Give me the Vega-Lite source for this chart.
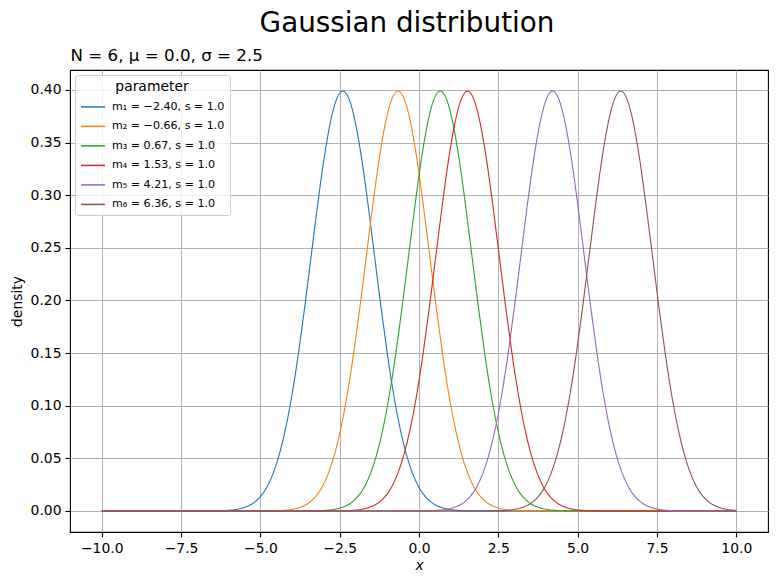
{
  "$schema": "https://vega.github.io/schema/vega-lite/v6.json",
  "width": 698,
  "height": 462,
  "autosize": "none",
  "padding": {"left": 70, "top": 70, "right": 9, "bottom": 53},
  "background": "white",
  "config": {
    "font": "DejaVu Sans",
    "view": {"stroke": "black", "strokeWidth": 1.1},
    "axis": {
      "domain": false,
      "grid": true,
      "gridColor": "#b0b0b0",
      "gridWidth": 1,
      "tickColor": "black",
      "tickSize": 5,
      "tickWidth": 1.1,
      "labelColor": "black",
      "labelFontSize": 13.9,
      "labelPadding": 4,
      "titleColor": "black",
      "titleFontSize": 13.9,
      "titleFontWeight": "normal"
    }
  },
  "title": {
    "text": "Gaussian distribution",
    "fontSize": 27.8,
    "fontWeight": "normal",
    "color": "black",
    "anchor": "middle",
    "dx": -12,
    "offset": 9
  },
  "data": {
    "values": [
      {"k": "m1", "x": -10, "y": 0},
      {"k": "m1", "x": -6.4, "y": 0.00013},
      {"k": "m1", "x": -6.2, "y": 0.00029},
      {"k": "m1", "x": -6.0, "y": 0.00061},
      {"k": "m1", "x": -5.8, "y": 0.00123},
      {"k": "m1", "x": -5.6, "y": 0.00238},
      {"k": "m1", "x": -5.4, "y": 0.00443},
      {"k": "m1", "x": -5.2, "y": 0.00792},
      {"k": "m1", "x": -5.0, "y": 0.01358},
      {"k": "m1", "x": -4.8, "y": 0.02239},
      {"k": "m1", "x": -4.6, "y": 0.03547},
      {"k": "m1", "x": -4.4, "y": 0.05399},
      {"k": "m1", "x": -4.2, "y": 0.07895},
      {"k": "m1", "x": -4.0, "y": 0.11092},
      {"k": "m1", "x": -3.8, "y": 0.14973},
      {"k": "m1", "x": -3.6, "y": 0.19419},
      {"k": "m1", "x": -3.4, "y": 0.24197},
      {"k": "m1", "x": -3.2, "y": 0.28969},
      {"k": "m1", "x": -3.0, "y": 0.33322},
      {"k": "m1", "x": -2.8, "y": 0.36827},
      {"k": "m1", "x": -2.6, "y": 0.39104},
      {"k": "m1", "x": -2.4, "y": 0.39894},
      {"k": "m1", "x": -2.2, "y": 0.39104},
      {"k": "m1", "x": -2.0, "y": 0.36827},
      {"k": "m1", "x": -1.8, "y": 0.33322},
      {"k": "m1", "x": -1.6, "y": 0.28969},
      {"k": "m1", "x": -1.4, "y": 0.24197},
      {"k": "m1", "x": -1.2, "y": 0.19419},
      {"k": "m1", "x": -1.0, "y": 0.14973},
      {"k": "m1", "x": -0.8, "y": 0.11092},
      {"k": "m1", "x": -0.6, "y": 0.07895},
      {"k": "m1", "x": -0.4, "y": 0.05399},
      {"k": "m1", "x": -0.2, "y": 0.03547},
      {"k": "m1", "x": 0.0, "y": 0.02239},
      {"k": "m1", "x": 0.2, "y": 0.01358},
      {"k": "m1", "x": 0.4, "y": 0.00792},
      {"k": "m1", "x": 0.6, "y": 0.00443},
      {"k": "m1", "x": 0.8, "y": 0.00238},
      {"k": "m1", "x": 1.0, "y": 0.00123},
      {"k": "m1", "x": 1.2, "y": 0.00061},
      {"k": "m1", "x": 1.4, "y": 0.00029},
      {"k": "m1", "x": 1.6, "y": 0.00013},
      {"k": "m1", "x": 10, "y": 0},

      {"k": "m2", "x": -10, "y": 0},
      {"k": "m2", "x": -4.66, "y": 0.00013},
      {"k": "m2", "x": -4.46, "y": 0.00029},
      {"k": "m2", "x": -4.26, "y": 0.00061},
      {"k": "m2", "x": -4.06, "y": 0.00123},
      {"k": "m2", "x": -3.86, "y": 0.00238},
      {"k": "m2", "x": -3.66, "y": 0.00443},
      {"k": "m2", "x": -3.46, "y": 0.00792},
      {"k": "m2", "x": -3.26, "y": 0.01358},
      {"k": "m2", "x": -3.06, "y": 0.02239},
      {"k": "m2", "x": -2.86, "y": 0.03547},
      {"k": "m2", "x": -2.66, "y": 0.05399},
      {"k": "m2", "x": -2.46, "y": 0.07895},
      {"k": "m2", "x": -2.26, "y": 0.11092},
      {"k": "m2", "x": -2.06, "y": 0.14973},
      {"k": "m2", "x": -1.86, "y": 0.19419},
      {"k": "m2", "x": -1.66, "y": 0.24197},
      {"k": "m2", "x": -1.46, "y": 0.28969},
      {"k": "m2", "x": -1.26, "y": 0.33322},
      {"k": "m2", "x": -1.06, "y": 0.36827},
      {"k": "m2", "x": -0.86, "y": 0.39104},
      {"k": "m2", "x": -0.66, "y": 0.39894},
      {"k": "m2", "x": -0.46, "y": 0.39104},
      {"k": "m2", "x": -0.26, "y": 0.36827},
      {"k": "m2", "x": -0.06, "y": 0.33322},
      {"k": "m2", "x": 0.14, "y": 0.28969},
      {"k": "m2", "x": 0.34, "y": 0.24197},
      {"k": "m2", "x": 0.54, "y": 0.19419},
      {"k": "m2", "x": 0.74, "y": 0.14973},
      {"k": "m2", "x": 0.94, "y": 0.11092},
      {"k": "m2", "x": 1.14, "y": 0.07895},
      {"k": "m2", "x": 1.34, "y": 0.05399},
      {"k": "m2", "x": 1.54, "y": 0.03547},
      {"k": "m2", "x": 1.74, "y": 0.02239},
      {"k": "m2", "x": 1.94, "y": 0.01358},
      {"k": "m2", "x": 2.14, "y": 0.00792},
      {"k": "m2", "x": 2.34, "y": 0.00443},
      {"k": "m2", "x": 2.54, "y": 0.00238},
      {"k": "m2", "x": 2.74, "y": 0.00123},
      {"k": "m2", "x": 2.94, "y": 0.00061},
      {"k": "m2", "x": 3.14, "y": 0.00029},
      {"k": "m2", "x": 3.34, "y": 0.00013},
      {"k": "m2", "x": 10, "y": 0},

      {"k": "m3", "x": -10, "y": 0},
      {"k": "m3", "x": -3.33, "y": 0.00013},
      {"k": "m3", "x": -3.13, "y": 0.00029},
      {"k": "m3", "x": -2.93, "y": 0.00061},
      {"k": "m3", "x": -2.73, "y": 0.00123},
      {"k": "m3", "x": -2.53, "y": 0.00238},
      {"k": "m3", "x": -2.33, "y": 0.00443},
      {"k": "m3", "x": -2.13, "y": 0.00792},
      {"k": "m3", "x": -1.93, "y": 0.01358},
      {"k": "m3", "x": -1.73, "y": 0.02239},
      {"k": "m3", "x": -1.53, "y": 0.03547},
      {"k": "m3", "x": -1.33, "y": 0.05399},
      {"k": "m3", "x": -1.13, "y": 0.07895},
      {"k": "m3", "x": -0.93, "y": 0.11092},
      {"k": "m3", "x": -0.73, "y": 0.14973},
      {"k": "m3", "x": -0.53, "y": 0.19419},
      {"k": "m3", "x": -0.33, "y": 0.24197},
      {"k": "m3", "x": -0.13, "y": 0.28969},
      {"k": "m3", "x": 0.07, "y": 0.33322},
      {"k": "m3", "x": 0.27, "y": 0.36827},
      {"k": "m3", "x": 0.47, "y": 0.39104},
      {"k": "m3", "x": 0.67, "y": 0.39894},
      {"k": "m3", "x": 0.87, "y": 0.39104},
      {"k": "m3", "x": 1.07, "y": 0.36827},
      {"k": "m3", "x": 1.27, "y": 0.33322},
      {"k": "m3", "x": 1.47, "y": 0.28969},
      {"k": "m3", "x": 1.67, "y": 0.24197},
      {"k": "m3", "x": 1.87, "y": 0.19419},
      {"k": "m3", "x": 2.07, "y": 0.14973},
      {"k": "m3", "x": 2.27, "y": 0.11092},
      {"k": "m3", "x": 2.47, "y": 0.07895},
      {"k": "m3", "x": 2.67, "y": 0.05399},
      {"k": "m3", "x": 2.87, "y": 0.03547},
      {"k": "m3", "x": 3.07, "y": 0.02239},
      {"k": "m3", "x": 3.27, "y": 0.01358},
      {"k": "m3", "x": 3.47, "y": 0.00792},
      {"k": "m3", "x": 3.67, "y": 0.00443},
      {"k": "m3", "x": 3.87, "y": 0.00238},
      {"k": "m3", "x": 4.07, "y": 0.00123},
      {"k": "m3", "x": 4.27, "y": 0.00061},
      {"k": "m3", "x": 4.47, "y": 0.00029},
      {"k": "m3", "x": 4.67, "y": 0.00013},
      {"k": "m3", "x": 10, "y": 0},

      {"k": "m4", "x": -10, "y": 0},
      {"k": "m4", "x": -2.47, "y": 0.00013},
      {"k": "m4", "x": -2.27, "y": 0.00029},
      {"k": "m4", "x": -2.07, "y": 0.00061},
      {"k": "m4", "x": -1.87, "y": 0.00123},
      {"k": "m4", "x": -1.67, "y": 0.00238},
      {"k": "m4", "x": -1.47, "y": 0.00443},
      {"k": "m4", "x": -1.27, "y": 0.00792},
      {"k": "m4", "x": -1.07, "y": 0.01358},
      {"k": "m4", "x": -0.87, "y": 0.02239},
      {"k": "m4", "x": -0.67, "y": 0.03547},
      {"k": "m4", "x": -0.47, "y": 0.05399},
      {"k": "m4", "x": -0.27, "y": 0.07895},
      {"k": "m4", "x": -0.07, "y": 0.11092},
      {"k": "m4", "x": 0.13, "y": 0.14973},
      {"k": "m4", "x": 0.33, "y": 0.19419},
      {"k": "m4", "x": 0.53, "y": 0.24197},
      {"k": "m4", "x": 0.73, "y": 0.28969},
      {"k": "m4", "x": 0.93, "y": 0.33322},
      {"k": "m4", "x": 1.13, "y": 0.36827},
      {"k": "m4", "x": 1.33, "y": 0.39104},
      {"k": "m4", "x": 1.53, "y": 0.39894},
      {"k": "m4", "x": 1.73, "y": 0.39104},
      {"k": "m4", "x": 1.93, "y": 0.36827},
      {"k": "m4", "x": 2.13, "y": 0.33322},
      {"k": "m4", "x": 2.33, "y": 0.28969},
      {"k": "m4", "x": 2.53, "y": 0.24197},
      {"k": "m4", "x": 2.73, "y": 0.19419},
      {"k": "m4", "x": 2.93, "y": 0.14973},
      {"k": "m4", "x": 3.13, "y": 0.11092},
      {"k": "m4", "x": 3.33, "y": 0.07895},
      {"k": "m4", "x": 3.53, "y": 0.05399},
      {"k": "m4", "x": 3.73, "y": 0.03547},
      {"k": "m4", "x": 3.93, "y": 0.02239},
      {"k": "m4", "x": 4.13, "y": 0.01358},
      {"k": "m4", "x": 4.33, "y": 0.00792},
      {"k": "m4", "x": 4.53, "y": 0.00443},
      {"k": "m4", "x": 4.73, "y": 0.00238},
      {"k": "m4", "x": 4.93, "y": 0.00123},
      {"k": "m4", "x": 5.13, "y": 0.00061},
      {"k": "m4", "x": 5.33, "y": 0.00029},
      {"k": "m4", "x": 5.53, "y": 0.00013},
      {"k": "m4", "x": 10, "y": 0},

      {"k": "m5", "x": -10, "y": 0},
      {"k": "m5", "x": 0.21, "y": 0.00013},
      {"k": "m5", "x": 0.41, "y": 0.00029},
      {"k": "m5", "x": 0.61, "y": 0.00061},
      {"k": "m5", "x": 0.81, "y": 0.00123},
      {"k": "m5", "x": 1.01, "y": 0.00238},
      {"k": "m5", "x": 1.21, "y": 0.00443},
      {"k": "m5", "x": 1.41, "y": 0.00792},
      {"k": "m5", "x": 1.61, "y": 0.01358},
      {"k": "m5", "x": 1.81, "y": 0.02239},
      {"k": "m5", "x": 2.01, "y": 0.03547},
      {"k": "m5", "x": 2.21, "y": 0.05399},
      {"k": "m5", "x": 2.41, "y": 0.07895},
      {"k": "m5", "x": 2.61, "y": 0.11092},
      {"k": "m5", "x": 2.81, "y": 0.14973},
      {"k": "m5", "x": 3.01, "y": 0.19419},
      {"k": "m5", "x": 3.21, "y": 0.24197},
      {"k": "m5", "x": 3.41, "y": 0.28969},
      {"k": "m5", "x": 3.61, "y": 0.33322},
      {"k": "m5", "x": 3.81, "y": 0.36827},
      {"k": "m5", "x": 4.01, "y": 0.39104},
      {"k": "m5", "x": 4.21, "y": 0.39894},
      {"k": "m5", "x": 4.41, "y": 0.39104},
      {"k": "m5", "x": 4.61, "y": 0.36827},
      {"k": "m5", "x": 4.81, "y": 0.33322},
      {"k": "m5", "x": 5.01, "y": 0.28969},
      {"k": "m5", "x": 5.21, "y": 0.24197},
      {"k": "m5", "x": 5.41, "y": 0.19419},
      {"k": "m5", "x": 5.61, "y": 0.14973},
      {"k": "m5", "x": 5.81, "y": 0.11092},
      {"k": "m5", "x": 6.01, "y": 0.07895},
      {"k": "m5", "x": 6.21, "y": 0.05399},
      {"k": "m5", "x": 6.41, "y": 0.03547},
      {"k": "m5", "x": 6.61, "y": 0.02239},
      {"k": "m5", "x": 6.81, "y": 0.01358},
      {"k": "m5", "x": 7.01, "y": 0.00792},
      {"k": "m5", "x": 7.21, "y": 0.00443},
      {"k": "m5", "x": 7.41, "y": 0.00238},
      {"k": "m5", "x": 7.61, "y": 0.00123},
      {"k": "m5", "x": 7.81, "y": 0.00061},
      {"k": "m5", "x": 8.01, "y": 0.00029},
      {"k": "m5", "x": 8.21, "y": 0.00013},
      {"k": "m5", "x": 10, "y": 0},

      {"k": "m6", "x": -10, "y": 0},
      {"k": "m6", "x": 2.36, "y": 0.00013},
      {"k": "m6", "x": 2.56, "y": 0.00029},
      {"k": "m6", "x": 2.76, "y": 0.00061},
      {"k": "m6", "x": 2.96, "y": 0.00123},
      {"k": "m6", "x": 3.16, "y": 0.00238},
      {"k": "m6", "x": 3.36, "y": 0.00443},
      {"k": "m6", "x": 3.56, "y": 0.00792},
      {"k": "m6", "x": 3.76, "y": 0.01358},
      {"k": "m6", "x": 3.96, "y": 0.02239},
      {"k": "m6", "x": 4.16, "y": 0.03547},
      {"k": "m6", "x": 4.36, "y": 0.05399},
      {"k": "m6", "x": 4.56, "y": 0.07895},
      {"k": "m6", "x": 4.76, "y": 0.11092},
      {"k": "m6", "x": 4.96, "y": 0.14973},
      {"k": "m6", "x": 5.16, "y": 0.19419},
      {"k": "m6", "x": 5.36, "y": 0.24197},
      {"k": "m6", "x": 5.56, "y": 0.28969},
      {"k": "m6", "x": 5.76, "y": 0.33322},
      {"k": "m6", "x": 5.96, "y": 0.36827},
      {"k": "m6", "x": 6.16, "y": 0.39104},
      {"k": "m6", "x": 6.36, "y": 0.39894},
      {"k": "m6", "x": 6.56, "y": 0.39104},
      {"k": "m6", "x": 6.76, "y": 0.36827},
      {"k": "m6", "x": 6.96, "y": 0.33322},
      {"k": "m6", "x": 7.16, "y": 0.28969},
      {"k": "m6", "x": 7.36, "y": 0.24197},
      {"k": "m6", "x": 7.56, "y": 0.19419},
      {"k": "m6", "x": 7.76, "y": 0.14973},
      {"k": "m6", "x": 7.96, "y": 0.11092},
      {"k": "m6", "x": 8.16, "y": 0.07895},
      {"k": "m6", "x": 8.36, "y": 0.05399},
      {"k": "m6", "x": 8.56, "y": 0.03547},
      {"k": "m6", "x": 8.76, "y": 0.02239},
      {"k": "m6", "x": 8.96, "y": 0.01358},
      {"k": "m6", "x": 9.16, "y": 0.00792},
      {"k": "m6", "x": 9.36, "y": 0.00443},
      {"k": "m6", "x": 9.56, "y": 0.00238},
      {"k": "m6", "x": 9.76, "y": 0.00123},
      {"k": "m6", "x": 9.96, "y": 0.00061},
      {"k": "m6", "x": 10, "y": 0.00053}
    ]
  },
  "layer": [
    {
      "mark": {"type": "line", "strokeWidth": 1.1, "interpolate": "monotone"},
      "encoding": {
        "x": {
          "field": "x",
          "type": "quantitative",
          "scale": {"domain": [-11, 11], "nice": false, "zero": false},
          "axis": {
            "values": [-10, -7.5, -5, -2.5, 0, 2.5, 5, 7.5, 10],
            "format": ".1f",
            "title": "x",
            "titleFontStyle": "italic",
            "titlePadding": 4
          }
        },
        "y": {
          "field": "y",
          "type": "quantitative",
          "scale": {"domain": [-0.01995, 0.4189], "nice": false, "zero": false},
          "axis": {
            "values": [0, 0.05, 0.1, 0.15, 0.2, 0.25, 0.3, 0.35, 0.4],
            "format": ".2f",
            "title": "density",
            "titlePadding": 6
          }
        },
        "color": {
          "field": "k",
          "type": "nominal",
          "scale": {
            "domain": ["m1", "m2", "m3", "m4", "m5", "m6"],
            "range": ["#1f77b4", "#ff7f0e", "#2ca02c", "#d62728", "#9467bd", "#8c564b"]
          },
          "legend": {
            "title": "parameter",
            "orient": "top-left",
            "offset": 5,
            "fillColor": "rgba(255,255,255,0.8)",
            "strokeColor": "#cccccc",
            "cornerRadius": 3,
            "padding": 5,
            "titleAnchor": "middle",
            "titleFontSize": 13.9,
            "titleFontWeight": "normal",
            "titleColor": "black",
            "titlePadding": 0,
            "labelFontSize": 11.1,
            "labelColor": "black",
            "labelOffset": 6,
            "symbolType": "stroke",
            "symbolSize": 576,
            "symbolStrokeWidth": 1.5,
            "rowPadding": 0.5,
            "labelExpr": "['m\u2081 = \u22122.40, s = 1.0', 'm\u2082 = \u22120.66, s = 1.0', 'm\u2083 = 0.67, s = 1.0', 'm\u2084 = 1.53, s = 1.0', 'm\u2085 = 4.21, s = 1.0', 'm\u2086 = 6.36, s = 1.0'][indexof(['m1', 'm2', 'm3', 'm4', 'm5', 'm6'], datum.value)]"
          }
        }
      }
    },
    {
      "mark": {"type": "point", "opacity": 0},
      "encoding": {
        "x": {
          "field": "x",
          "type": "quantitative",
          "axis": {
            "orient": "top",
            "labels": false,
            "ticks": false,
            "grid": false,
            "title": "N = 6, \u03bc = 0.0, \u03c3 = 2.5",
            "titleFontSize": 16.7,
            "titleAnchor": "start",
            "titleAlign": "left",
            "titlePadding": 6
          }
        }
      }
    }
  ],
  "resolve": {"axis": {"x": "independent"}}
}
